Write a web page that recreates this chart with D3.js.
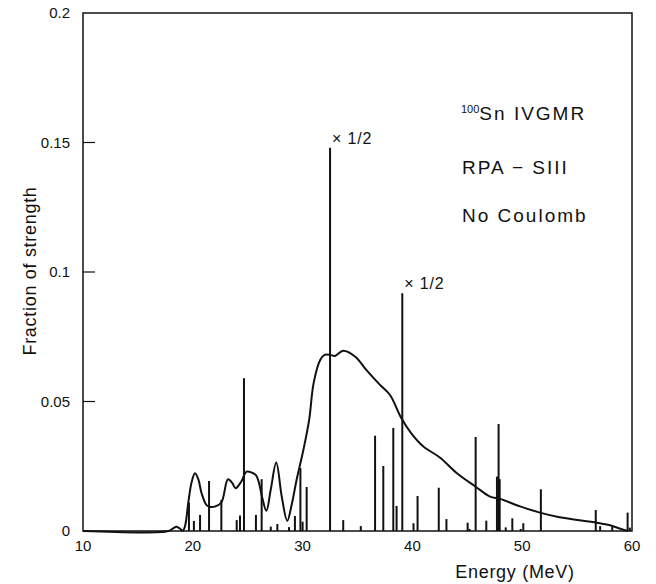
<!DOCTYPE html>
<html>
<head>
<meta charset="utf-8">
<script src="https://cdn.jsdelivr.net/npm/d3@7"></script>
<style>
  html, body { margin: 0; padding: 0; background: #fff; }
  svg { display: block; font-family: "Liberation Sans", Arial, sans-serif; }
  .tick-label { font-size: 15px; fill: #111; }
  .axis-title { font-size: 18px; fill: #111; letter-spacing: 0.7px; }
  .note { font-size: 19px; fill: #111; letter-spacing: 2px; }
  .half { font-size: 16px; fill: #111; letter-spacing: 0.8px; }
</style>
</head>
<body>
<svg id="chart" width="656" height="584"></svg>
<script>
// discrete RPA states (MeV, fraction of strength)
const barEnergy = [
  19.65, 20.1, 20.66, 21.48, 22.6, 24.0, 24.3, 24.66, 25.75, 26.27,
  27.1, 27.7, 28.76, 29.3, 29.8, 30.0, 30.37, 32.5, 33.7, 35.3,
  36.6, 37.35, 38.26, 38.56, 39.08, 40.1, 40.47, 42.4, 43.1, 45.03,
  45.2, 45.76, 46.73, 47.7, 47.85, 47.95, 48.5, 49.1, 49.86, 50.1,
  51.7, 56.7, 57.1, 58.2, 59.6, 59.8
];
const barStrength = [
  0.011, 0.0039, 0.0062, 0.0193, 0.012, 0.0042, 0.006, 0.059, 0.0062, 0.020,
  0.0017, 0.0027, 0.0015, 0.0058, 0.0243, 0.0036, 0.017, 0.148, 0.0042, 0.0019,
  0.0368, 0.0251, 0.0398, 0.0097, 0.0918, 0.003, 0.0135, 0.0167, 0.0046, 0.0032,
  0.0008, 0.0363, 0.004, 0.021, 0.0413, 0.020, 0.0014, 0.0049, 0.0008, 0.003,
  0.0161, 0.0081, 0.0019, 0.0017, 0.0071, 0.0013
];
// states drawn at half their strength
const halvedEnergy = [32.5, 39.08];

// smoothed strength function
const curveEnergy = [
  10, 17.8, 18.2, 18.5, 18.8, 19.1, 19.3, 19.6, 19.9, 20.2,
  20.5, 20.8, 21.25, 21.6, 22.0, 22.6, 23.2, 23.6, 23.9, 24.4,
  24.9, 25.4, 25.75, 26.0, 26.3, 26.7, 27.1, 27.6, 28.1, 28.6,
  29.0, 29.45, 30.07, 30.6, 31.0, 31.6, 32.0, 32.5, 32.95, 33.7,
  34.8, 35.8, 37.05, 37.96, 39.0, 39.9, 41.0, 42.5, 44.0, 45.76,
  47.07, 47.98, 49.8, 51.7, 53.4, 56.8, 58.0, 59.0, 59.6
];
const curveStrength = [
  0, 0, 0.001, 0.0016, 0.001, 0.0002, 0.002, 0.0113, 0.019, 0.0223,
  0.02, 0.0146, 0.010, 0.0093, 0.0094, 0.011, 0.020, 0.0185, 0.0165, 0.019,
  0.0229, 0.0225, 0.0216, 0.019, 0.0133, 0.0078, 0.016, 0.0264, 0.0133, 0.0039,
  0.010, 0.0197, 0.0313, 0.043, 0.057, 0.066, 0.068, 0.068, 0.0676, 0.0696,
  0.0673, 0.0622, 0.0564, 0.0525, 0.0435, 0.0377, 0.0326, 0.0284, 0.0225, 0.0171,
  0.0133, 0.0124, 0.0095, 0.007, 0.0053, 0.0032, 0.0022, 0.0008, 0
];

const xTicks = [10, 20, 30, 40, 50, 60];
const yTicks = [0, 0.05, 0.1, 0.15, 0.2];
const yTickLabels = ["0", "0.05", "0.1", "0.15", "0.2"];
const notes = ["RPA \u2212 SIII", "No Coulomb"];

const margin = { top: 13, right: 24, bottom: 53, left: 83 };
const svg = d3.select("#chart");
const width = +svg.attr("width") - margin.left - margin.right;
const height = +svg.attr("height") - margin.top - margin.bottom;

const x = d3.scaleLinear().domain([10, 60]).range([0, width]);
const y = d3.scaleLinear().domain([0, 0.2]).range([height, 0]);

const g = svg.append("g").attr("transform", `translate(${margin.left},${margin.top})`);

// bars
g.selectAll("line.state")
  .data(barEnergy.map((e, i) => ({ e, s: barStrength[i] })))
  .join("line")
  .attr("class", "state")
  .attr("x1", (d) => x(d.e))
  .attr("x2", (d) => x(d.e))
  .attr("y1", y(0))
  .attr("y2", (d) => y(d.s))
  .attr("stroke", "#111")
  .attr("stroke-width", 2);

// "x 1/2" markers
halvedEnergy.forEach((e) => {
  const s = barStrength[barEnergy.indexOf(e)];
  g.append("text")
    .attr("class", "half")
    .attr("x", x(e) + 2)
    .attr("y", y(s) - 4)
    .text("\u00d7 1/2");
});

// smoothed curve
const line = d3.line()
  .x((d, i) => x(curveEnergy[i]))
  .y((d) => y(d))
  .curve(d3.curveCatmullRom.alpha(0.5));

g.append("path")
  .datum(curveStrength)
  .attr("d", line)
  .attr("fill", "none")
  .attr("stroke", "#111")
  .attr("stroke-width", 2);

// frame
g.append("rect")
  .attr("width", width)
  .attr("height", height)
  .attr("fill", "none")
  .attr("stroke", "#111")
  .attr("stroke-width", 1.5);

// y ticks (inward) + labels
g.selectAll("line.ytick")
  .data(yTicks.slice(1, -1))
  .join("line")
  .attr("x1", 0)
  .attr("x2", 12)
  .attr("y1", (d) => y(d))
  .attr("y2", (d) => y(d))
  .attr("stroke", "#111")
  .attr("stroke-width", 1.2);

g.selectAll("text.ylab")
  .data(yTicks)
  .join("text")
  .attr("class", "tick-label")
  .attr("x", -13)
  .attr("y", (d) => y(d) + 5)
  .attr("text-anchor", "end")
  .text((d, i) => yTickLabels[i]);

g.selectAll("text.xlab")
  .data(xTicks)
  .join("text")
  .attr("class", "tick-label")
  .attr("x", (d) => x(d))
  .attr("y", height + 20)
  .attr("text-anchor", "middle")
  .text((d) => d);

// axis titles
svg.append("text")
  .attr("class", "axis-title")
  .attr("x", 515)
  .attr("y", 578)
  .attr("text-anchor", "middle")
  .text("Energy (MeV)");

svg.append("text")
  .attr("class", "axis-title")
  .attr("transform", "translate(36,271) rotate(-90)")
  .attr("text-anchor", "middle")
  .text("Fraction of strength");

// annotations
const title = svg.append("text").attr("class", "note").attr("x", 461).attr("y", 120);
title.append("tspan").attr("font-size", 11).attr("letter-spacing", 0).attr("dy", -7).text("100");
title.append("tspan").attr("dy", 7).text("Sn IVGMR");

notes.forEach((t, i) => {
  svg.append("text")
    .attr("class", "note")
    .attr("x", 462)
    .attr("y", 174 + i * 48)
    .text(t);
});
</script>
</body>
</html>
